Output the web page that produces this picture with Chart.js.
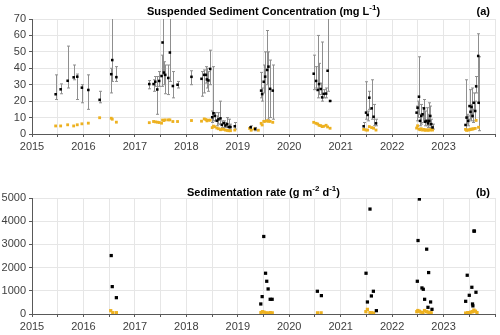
<!DOCTYPE html>
<html>
<head>
<meta charset="utf-8">
<script src="https://cdn.jsdelivr.net/npm/chart.js@4.4.0/dist/chart.umd.min.js"></script>
<style>
  body { margin: 0; background: #fff; }
  #wrapA { position: absolute; left: 0; top: 0; }
  #wrapB { position: absolute; left: 0; top: 170px; }
</style>
</head>
<body>
<div id="wrapA"><canvas id="sscChart" width="500" height="160"></canvas></div>
<div id="wrapB"><canvas id="rateChart" width="500" height="165"></canvas></div>
<script>
// (a) concentracion media con barras de error
const sscDates = [2015.46, 2015.557, 2015.693, 2015.81, 2015.88, 2015.97, 2016.095, 2016.315, 2016.54, 2016.56, 2016.64,
    2017.28, 2017.363, 2017.396, 2017.435, 2017.472, 2017.518, 2017.538, 2017.563, 2017.59, 2017.649, 2017.68, 2017.738, 2017.829,
    2018.10, 2018.295, 2018.348, 2018.38, 2018.40, 2018.43, 2018.464, 2018.503, 2018.528, 2018.553, 2018.592, 2018.625, 2018.664,
    2018.69, 2018.728, 2018.761, 2018.794, 2018.825, 2018.858, 2018.942,
    2019.25, 2019.34, 2019.454, 2019.474, 2019.505, 2019.532, 2019.571, 2019.596, 2019.629, 2019.68,
    2020.476, 2020.522, 2020.553, 2020.58, 2020.612, 2020.64, 2020.67, 2020.717, 2020.746, 2020.794,
    2021.447, 2021.493, 2021.524, 2021.557, 2021.602, 2021.64, 2021.687,
    2022.476, 2022.495, 2022.522, 2022.542, 2022.567, 2022.592, 2022.62, 2022.645, 2022.67, 2022.697, 2022.722, 2022.742, 2022.761, 2022.786,
    2023.427, 2023.447, 2023.48, 2023.505, 2023.524, 2023.544, 2023.563, 2023.586, 2023.615, 2023.634, 2023.674, 2023.684];
const sscValues = [24.2, 27.2, 32.4, 34.5, 34.9, 28.2, 26.8, 20.8, 36.4, 45, 34.6,
    30.4, 30.4, 31.8, 27.1, 32.3, 35.3, 55.7, 37.4, 36, 34.1, 49.6, 29.2, 30,
    34.8, 33.6, 36, 36, 33.2, 32.6, 39.6, 10.2, 12.6, 11, 8.1, 8.9, 9.5,
    5.6, 6.6, 5.2, 6.0, 4.3, 4.3, 4.7,
    4.1, 3.1, 26.4, 24.3, 31.8, 34.9, 39, 41, 27.5, 26.4,
    36.7, 32.3, 26.8, 30.4, 27.4, 22.3, 24.4, 24.6, 38.5, 20.1,
    4.7, 13, 11.6, 22.1, 15.6, 10.5, 6.5,
    13, 16, 22.7, 8, 11, 12, 15.6, 7.5, 8, 6.5, 8, 11, 6, 4,
    5.5, 10, 8, 17, 13.5, 16.5, 11, 19, 14, 29, 47.5, 19];
const sscLow = [21, 24.5, 28, 33, 21, 19, 15, 19, 25, 32, 32,
    27.5, 26, 29, 12, 29, 29, 36, 30, 24.5, 24, 32, 22, 28,
    30, 23, 25, 31, 28, 26, 30, 7, 8, 8, 5, 6, 6,
    4, 4, 4, 4, 3, 3, 3,
    2.5, 2, 22, 20, 25, 8, 30, 9, 10, 9,
    27, 28, 22, 24, 24, 20, 22, 22, 26, 20.1,
    3, 9, 8, 15, 9, 5, 5,
    8, 10, 12, 5, 6, 7, 8, 5, 5, 4, 5, 6, 4, 3,
    3, 6, 5, 9, 8, 10, 7, 15, 8, 25, 19, 2];
const sscHigh = [36, 30.5, 53.5, 42, 36.5, 30, 36, 26, 40, 75, 41,
    32.5, 33, 35, 35, 38, 48, 75, 44, 42, 42, 75, 38, 32,
    38.5, 38, 39, 41, 40, 38, 51, 14, 41, 13, 11, 13, 20,
    8, 8, 7, 10, 9, 6, 7,
    5, 4, 37.5, 28, 42, 50, 63, 50, 45, 42,
    48, 41, 60, 43, 31, 56, 27, 28, 75, 20.1,
    7, 31.8, 14, 26, 33, 18, 9,
    17, 20, 47, 12, 18, 16, 21, 14, 16, 12, 19, 17, 9, 6,
    33, 12, 11, 27, 18, 28, 15, 25, 20, 35, 61, 47];

// (a) serie naranja
const sscOrangeDates = [2015.46, 2015.557, 2015.693, 2015.81, 2015.88, 2015.97, 2016.095, 2016.315, 2016.54, 2016.56, 2016.64,
    2017.28, 2017.363, 2017.396, 2017.435, 2017.472, 2017.518, 2017.538, 2017.563, 2017.59, 2017.649, 2017.68, 2017.738, 2017.829,
    2018.10, 2018.295, 2018.348, 2018.38, 2018.40, 2018.43, 2018.464, 2018.503, 2018.528, 2018.553, 2018.592, 2018.625, 2018.664,
    2018.69, 2018.728, 2018.761, 2018.794, 2018.825, 2018.858, 2018.942,
    2019.23, 2019.26, 2019.32, 2019.40,
    2019.454, 2019.474, 2019.505, 2019.532, 2019.571, 2019.596, 2019.629, 2019.68,
    2020.476, 2020.522, 2020.553, 2020.58, 2020.612, 2020.64, 2020.67, 2020.717, 2020.746, 2020.794,
    2021.447, 2021.493, 2021.524, 2021.557, 2021.602, 2021.64, 2021.687,
    2022.476, 2022.495, 2022.522, 2022.542, 2022.567, 2022.592, 2022.62, 2022.645, 2022.67, 2022.697, 2022.722, 2022.742, 2022.761, 2022.786,
    2023.427, 2023.447, 2023.48, 2023.505, 2023.524, 2023.544, 2023.563, 2023.586, 2023.615, 2023.634, 2023.68];
const sscOrangeValues = [4.9, 4.9, 5.6, 4.9, 5.6, 6.2, 6.6, 9.9, 9.6, 9, 7.2,
    6.9, 7.6, 7.4, 7.2, 7.0, 6.6, 8.5, 8.2, 8.6, 8.6, 8.6, 7.6, 7.6,
    8.2, 7.8, 9.2, 8.8, 8.0, 8.4, 8.4, 3.9, 4.8, 4.4, 3.6, 3.2, 2.6,
    3.0, 2.8, 2.4, 2.2, 2.0, 2.0, 2.4,
    3.4, 2.3, 3.1, 2.3,
    6.5, 5.5, 7.7, 7.7, 8.1, 7.7, 7.7, 7.1,
    7.1, 6.5, 6.1, 5.3, 5.1, 4.5, 4.7, 5.3, 4.3, 3.5,
    2.8, 2.4, 2.4, 4.5, 3.9, 3.5, 2.4,
    3.6, 5, 3, 2.6, 3.2, 2.4, 2.8, 2.2, 2.6, 2.2, 2.6, 2.4, 2.8, 2.4,
    2.8, 2.2, 2.4, 2.6, 2.8, 3.0, 3.0, 3.2, 3.4, 8.3, 4.1];

// (b) tasa de sedimentacion
const rateDates = [2016.54, 2016.56, 2016.64,
    2019.447, 2019.474, 2019.505, 2019.54, 2019.563, 2019.59, 2019.63, 2019.668,
    2020.547, 2020.625,
    2021.493, 2021.52, 2021.57, 2021.597, 2021.636, 2021.694,
    2022.49, 2022.504, 2022.53, 2022.58, 2022.606, 2022.632, 2022.672, 2022.697, 2022.71, 2022.748, 2022.775,
    2023.43, 2023.46, 2023.5, 2023.55, 2023.563, 2023.57, 2023.59, 2023.60, 2023.63];
const rateValues = [2519, 1180, 704,
    432, 749, 3341, 1757, 1411, 1080, 634, 634,
    980, 792,
    1757, 518, 4523, 778, 980, 144,
    1411, 3167, 4955, 1123, 1066, 634, 2794, 288, 1786, 518, 202,
    547, 1670, 806, 1152, 432, 350, 3574, 3574, 937];
const rateOrangeDates = [2016.53, 2016.57, 2016.64,
    2019.45, 2019.48, 2019.51, 2019.55, 2019.59, 2019.63, 2019.67,
    2020.55, 2020.62,
    2021.49, 2021.52, 2021.57, 2021.60, 2021.64,
    2022.48, 2022.50, 2022.53, 2022.56, 2022.60, 2022.63, 2022.67, 2022.70, 2022.73, 2022.76,
    2023.43, 2023.47, 2023.50, 2023.53, 2023.56, 2023.59, 2023.62, 2023.65];
const rateOrangeValues = [143, 56, 56,
    60, 100, 80, 50, 40, 60, 50,
    50, 50,
    100, 200, 60, 50, 40,
    100, 150, 120, 80, 60, 150, 100, 80, 60, 50,
    40, 60, 50, 80, 100, 170, 120, 60];

const yearTicks = [2015, 2016, 2017, 2018, 2019, 2020, 2021, 2022, 2023];
const BLACK = '#000000';
const ORANGE = '#EDB120';
const AXIS = '#595959';
const GRID = '#e6e6e6';

function toPoints(xs, ys) {
    return xs.map((x, i) => ({ x: x, y: ys[i] }));
}

// barras de error verticales
const errorBars = {
    id: 'errorBars',
    beforeDatasetsDraw(chart) {
        const ds = chart.data.datasets[0];
        if (!ds.low) return;
        const ctx = chart.ctx, a = chart.chartArea;
        const xs = chart.scales.x, ys = chart.scales.y;
        ctx.save();
        ctx.beginPath();
        ctx.rect(a.left, a.top, a.right - a.left, a.bottom - a.top);
        ctx.clip();
        ctx.strokeStyle = '#8f8f8f';
        ctx.lineWidth = 1;
        ds.data.forEach((p, i) => {
            const px = Math.round(xs.getPixelForValue(p.x)) + 0.5;
            const y1 = ys.getPixelForValue(ds.low[i]);
            const y2 = ys.getPixelForValue(ds.high[i]);
            ctx.beginPath();
            ctx.moveTo(px, y1); ctx.lineTo(px, y2);
            ctx.moveTo(px - 1.5, y1); ctx.lineTo(px + 1.5, y1);
            ctx.moveTo(px - 1.5, y2); ctx.lineTo(px + 1.5, y2);
            ctx.stroke();
        });
        ctx.restore();
    }
};

// titulo con superindices y etiqueta (a)/(b)
const panelTitle = {
    id: 'panelTitle',
    afterDraw(chart, args, opts) {
        const ctx = chart.ctx, a = chart.chartArea;
        const big = 'bold 11px "Liberation Sans", Arial, sans-serif';
        const small = 'bold 8px "Liberation Sans", Arial, sans-serif';
        ctx.save();
        ctx.fillStyle = '#000';
        ctx.textBaseline = 'middle';
        let total = 0;
        opts.parts.forEach(p => { ctx.font = p.sup ? small : big; total += ctx.measureText(p.t).width; });
        let x = (a.left + a.right) / 2 - total / 2;
        opts.parts.forEach(p => {
            ctx.font = p.sup ? small : big;
            ctx.fillText(p.t, x, p.sup ? opts.y - 4 : opts.y);
            x += ctx.measureText(p.t).width;
        });
        ctx.font = big;
        ctx.textAlign = 'right';
        ctx.fillText(opts.tag, 490, opts.y);
        ctx.restore();
    }
};

function xAxis(h) {
    return {
        type: 'linear',
        min: 2015,
        max: 2024,
        afterFit: s => { s.height = h; },
        border: { color: AXIS, width: 1 },
        grid: { color: GRID, tickColor: AXIS, tickLength: 3 },
        ticks: {
            stepSize: 0.5,
            autoSkip: false,
            maxRotation: 0,
            padding: 3,
            color: '#404040',
            font: { size: 11, family: '"Liberation Sans", Arial, sans-serif' },
            callback: v => (Number.isInteger(v) && yearTicks.includes(v)) ? String(v) : ''
        }
    };
}

function yAxis(max, step) {
    return {
        min: 0,
        max: max,
        afterFit: s => { s.width = 32; },
        border: { color: AXIS, width: 1 },
        grid: { color: GRID, tickColor: AXIS, tickLength: 3 },
        ticks: {
            stepSize: step,
            padding: 3,
            color: '#404040',
            font: { size: 11, family: '"Liberation Sans", Arial, sans-serif' },
            callback: v => String(v)
        }
    };
}

// Grafica (a)
const sscCtx = document.getElementById('sscChart').getContext('2d');
const sscChart = new Chart(sscCtx, {
    type: 'scatter',
    data: {
        datasets: [{
            label: 'SSC',
            data: toPoints(sscDates, sscValues),
            low: sscLow,
            high: sscHigh,
            pointStyle: 'rect',
            pointRadius: 1.8,
            backgroundColor: BLACK,
            borderColor: BLACK,
            borderWidth: 0
        }, {
            label: 'SSC (2)',
            data: toPoints(sscOrangeDates, sscOrangeValues),
            pointStyle: 'rect',
            pointRadius: 2,
            backgroundColor: ORANGE,
            borderColor: ORANGE,
            borderWidth: 0
        }]
    },
    options: {
        responsive: false,
        animation: false,
        layout: { padding: { top: 19, right: 5, left: 0, bottom: 0 } },
        scales: { x: xAxis(26), y: yAxis(70, 10) },
        plugins: {
            legend: { display: false },
            tooltip: { enabled: false },
            panelTitle: {
                y: 12,
                tag: '(a)',
                parts: [{ t: 'Suspended Sediment Concentration (mg L' }, { t: '-1', sup: true }, { t: ')' }]
            }
        }
    },
    plugins: [errorBars, panelTitle]
});

// Grafica (b)
const rateCtx = document.getElementById('rateChart').getContext('2d');
const rateChart = new Chart(rateCtx, {
    type: 'scatter',
    data: {
        datasets: [{
            label: 'Sedimentation rate',
            data: toPoints(rateDates, rateValues),
            pointStyle: 'rect',
            pointRadius: 2.3,
            backgroundColor: BLACK,
            borderColor: BLACK,
            borderWidth: 0
        }, {
            label: 'Sedimentation rate (2)',
            data: toPoints(rateOrangeDates, rateOrangeValues),
            pointStyle: 'rect',
            pointRadius: 2.3,
            backgroundColor: ORANGE,
            borderColor: ORANGE,
            borderWidth: 0
        }]
    },
    options: {
        responsive: false,
        animation: false,
        layout: { padding: { top: 28, right: 5, left: 0, bottom: 0 } },
        scales: { x: xAxis(21), y: yAxis(5000, 1000) },
        plugins: {
            legend: { display: false },
            tooltip: { enabled: false },
            panelTitle: {
                y: 23,
                tag: '(b)',
                parts: [{ t: 'Sedimentation rate (g m' }, { t: '-2', sup: true }, { t: ' d' }, { t: '-1', sup: true }, { t: ')' }]
            }
        }
    },
    plugins: [errorBars, panelTitle]
});
</script>
</body>
</html>
